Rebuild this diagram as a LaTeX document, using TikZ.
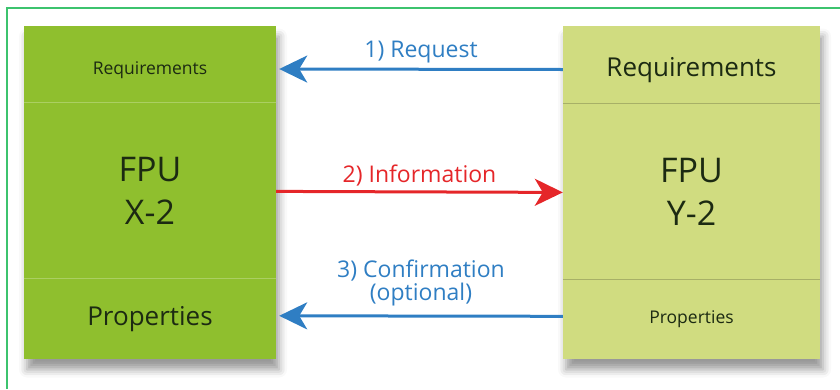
\documentclass[tikz,border=0pt]{standalone}
\usepackage{fontspec}
\setmainfont{Open Sans}
\usetikzlibrary{arrows.meta,positioning,shadows.blur}
\definecolor{framegreen}{HTML}{3CC36E}
\definecolor{xgreen}{HTML}{8FBF2E}
\definecolor{ygreen}{HTML}{D0DC80}
\definecolor{reqblue}{HTML}{2F7EC3}
\definecolor{infored}{HTML}{E52629}
\definecolor{boxtext}{HTML}{1C2A12}
\begin{document}
\begin{tikzpicture}[x=1pt,y=-1pt,
  unit/.style={minimum height=333pt, inner sep=0pt,
    blur shadow={shadow xshift=3pt, shadow yshift=-11pt, shadow blur radius=8pt, shadow opacity=40}},
  part/.style={minimum width=#1, inner sep=0pt, text=boxtext, align=center},
  divider/.style={line width=1pt},
  flow/.style={line width=3pt, -{Stealth[length=28pt, width=27pt, inset=8pt]}},
  flowlabel/.style={font=\fontsize{23}{23}\selectfont, align=center, inner sep=2pt}]
\useasboundingbox (0,0) rectangle (840,389);
\draw[framegreen, line width=1.3pt] (7,389) -- (7,8) -- (840,8);

% FPU X-2
\node [unit, fill=xgreen, minimum width=252pt] (xbox) at (150,192) {};
\node [part=252pt, minimum height=77pt, below=0pt of xbox.north,
  label={[yshift=-6pt, text=boxtext, font=\fontsize{17.5}{20}\selectfont]center:Requirements}] (xreq) {};
\node [part=252pt, minimum height=175pt, below=0pt of xreq,
  font=\fontsize{34}{43}\selectfont] (xfpu) {FPU\\X-2};
\node [part=252pt, minimum height=81pt, below=0pt of xfpu,
  font=\fontsize{26}{30}\selectfont] (xprop) {Properties};
\draw [divider, xgreen!75!white] (xreq.south west) -- (xreq.south east);
\draw [divider, xgreen!75!white] (xfpu.south west) -- (xfpu.south east);

% FPU Y-2
\node [unit, fill=ygreen, minimum width=257pt] (ybox) at (691.5,192) {};
\node [part=257pt, minimum height=78pt, below=0pt of ybox.north,
  label={[yshift=-6pt, text=boxtext, font=\fontsize{26}{30}\selectfont]center:Requirements}] (yreq) {};
\node [part=257pt, minimum height=175pt, below=0pt of yreq,
  font=\fontsize{34}{43}\selectfont] (yfpu) {FPU\\Y-2};
\node [part=257pt, minimum height=80pt, below=0pt of yfpu,
  font=\fontsize{17.5}{20}\selectfont] (yprop) {Properties};
\draw [divider, ygreen!80!black] (yreq.south west) -- (yreq.south east);
\draw [divider, ygreen!80!black] (yfpu.south west) -- (yfpu.south east);

% messages
\draw [flow, reqblue] ([yshift=-5pt]yreq.west) -- node [flowlabel, above=3pt] {1) Request} ([xshift=3pt, yshift=-5pt]xreq.east);
\draw [flow, infored] ([yshift=-1pt]xfpu.east) -- node [flowlabel, above=2pt] {2) Information} ([yshift=-1pt]yfpu.west);
\draw [flow, reqblue] ([yshift=3pt]yprop.west) -- node [flowlabel, above=12pt, text depth=0pt] {3) Confirmation\\(optional)} ([xshift=3pt, yshift=3pt]xprop.east);
\end{tikzpicture}
\end{document}
